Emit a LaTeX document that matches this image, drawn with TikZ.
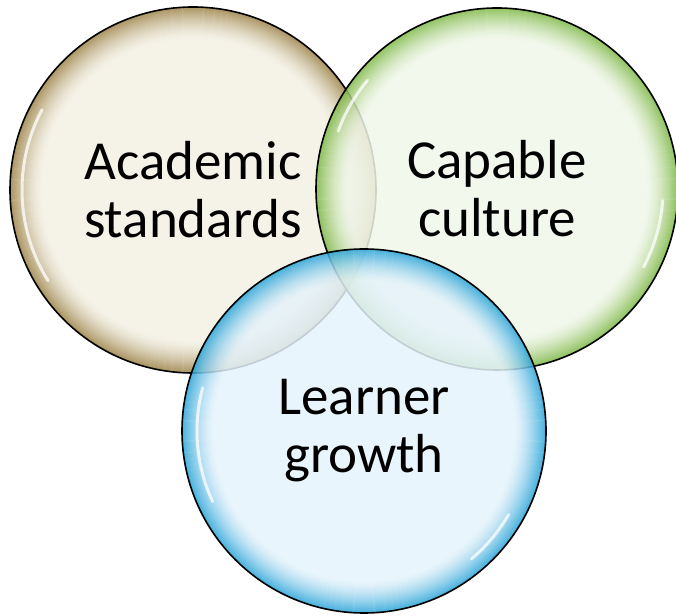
\documentclass[tikz,border=0pt]{standalone}
\usepackage{fontspec}
\setmainfont{Carlito}
\usepackage{tikz}
\usetikzlibrary{positioning}

\definecolor{sandin}{HTML}{F3F0E4}
\definecolor{sandrim}{HTML}{9C8246}
\definecolor{leafin}{HTML}{F1F7EA}
\definecolor{leafrim}{HTML}{7DB845}
\definecolor{skyin}{HTML}{E5F3FB}
\definecolor{skyrim}{HTML}{29A4D8}

% glass disc: light middle, rim band fading in from the edge
% #1 centre, #2 radius (pt), #3 inner colour, #4 rim colour
\newcommand{\glassdisc}[4]{%
  \begin{scope}[transparency group, opacity=0.85]
    \fill[#3] (#1) circle (#2pt);
    \foreach \k in {0,...,32}{
      \pgfmathsetmacro\mixv{100*(1-\k/32)^1.5}
      \pgfmathsetmacro\rr{#2-0.7-\k}
      \draw[#4!\mixv!#3, line width=1.4pt] (#1) circle (\rr pt);
    }
  \end{scope}
}

\begin{document}
\begin{tikzpicture}[
                x=1pt, y=1pt,
                bubble/.style={circle, draw=black, line width=1.6pt, align=center,
                    font=\fontsize{55}{58}\selectfont},
                shine/.style={draw=white, line width=3pt, opacity=0.75, line cap=round}
            ]
                \useasboundingbox (0,0) rectangle (676,615);

                \glassdisc{193,425}{183}{sandin}{sandrim}
                \node[bubble, minimum size=366pt] (academic) at (193,425) {Academic\\standards};
                \draw[shine] (academic.center) ++(152:171) arc (152:212:171);

                \glassdisc{497,426}{181}{leafin}{leafrim}
                \node[bubble, minimum size=362pt] (culture) at (497,426) {Capable\\culture};
                \draw[shine] (culture.center) ++(140:169) arc (140:160:169);
                \draw[shine] (culture.center) ++(-4:166) arc (-4:-28:166);

                \glassdisc{364,184}{182}{skyin}{skyrim}
                \node[bubble, minimum size=364pt] (growth) at (364,184) {Learner\\growth};
                \draw[shine] (growth.center) ++(165:167) arc (165:205:167);
                \draw[shine] (growth.center) ++(-30:167) arc (-30:-50:167);
            \end{tikzpicture}
\end{document}
